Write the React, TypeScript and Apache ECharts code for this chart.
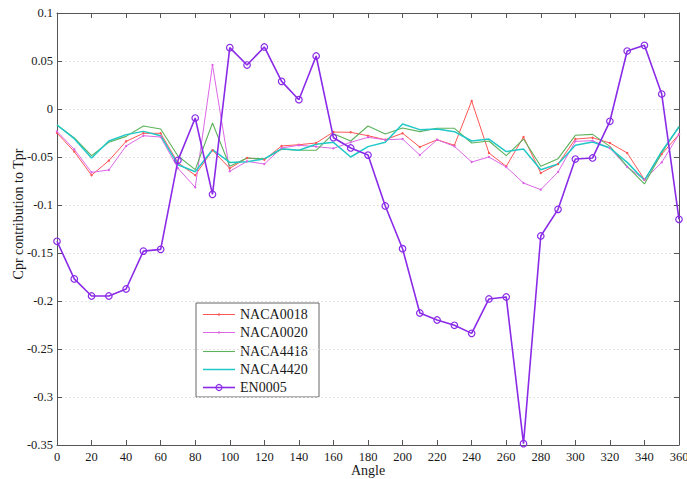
import React, { useEffect, useRef } from "react";
import * as echarts from "echarts";

const angles = [0, 10, 20, 30, 40, 50, 60, 70, 80, 90, 100, 110, 120, 130, 140, 150, 160, 170, 180,
  190, 200, 210, 220, 230, 240, 250, 260, 270, 280, 290, 300, 310, 320, 330, 340, 350, 360];

const naca0018 = [-0.025, -0.0444, -0.069, -0.0538, -0.0337, -0.0253, -0.0253, -0.056, -0.069, -0.043,
  -0.0618, -0.051, -0.0528, -0.0385, -0.0372, -0.0354, -0.024, -0.0243, -0.0278,
  -0.032, -0.0253, -0.0396, -0.032, -0.0378, 0.0083, -0.0458, -0.0597, -0.0292, -0.0667,
  -0.0573, -0.0313, -0.0299, -0.0354, -0.0458, -0.0736, -0.047, -0.0264];

const naca0020 = [-0.0233, -0.042, -0.066, -0.0635, -0.0385, -0.0278, -0.0292, -0.0618, -0.0816, 0.0458,
  -0.0649, -0.0545, -0.0573, -0.0406, -0.0378, -0.0392, -0.041, -0.0347, -0.0295,
  -0.032, -0.0313, -0.048, -0.032, -0.0389, -0.0552, -0.05, -0.0604, -0.0771, -0.084,
  -0.0656, -0.0337, -0.033, -0.0406, -0.0604, -0.0736, -0.0556, -0.0264];

const naca4418 = [-0.0167, -0.0302, -0.0486, -0.0347, -0.0285, -0.0177, -0.0208, -0.049, -0.0632, -0.0146,
  -0.0597, -0.051, -0.052, -0.042, -0.043, -0.043, -0.0257, -0.0333, -0.0177,
  -0.026, -0.0198, -0.0236, -0.0201, -0.0201, -0.0354, -0.0333, -0.0486, -0.0313, -0.0597,
  -0.0517, -0.0274, -0.0264, -0.0389, -0.0597, -0.0781, -0.0458, -0.018];

const naca4420 = [-0.0167, -0.0309, -0.051, -0.0333, -0.0267, -0.0233, -0.0278, -0.058, -0.0653, -0.0424,
  -0.0556, -0.0549, -0.052, -0.0413, -0.043, -0.0368, -0.0347, -0.05, -0.0392,
  -0.0347, -0.0156, -0.0215, -0.0208, -0.0236, -0.0333, -0.0313, -0.0444, -0.0417, -0.0632,
  -0.0573, -0.0378, -0.0344, -0.0406, -0.0556, -0.0743, -0.0441, -0.0188];

const en0005 = [-0.1378, -0.177, -0.1948, -0.1948, -0.1875, -0.148, -0.1462, -0.0535, -0.0094, -0.0889,
  0.0639, 0.0458, 0.0646, 0.0288, 0.0097, 0.0552, -0.0299, -0.0406, -0.048,
  -0.101, -0.1455, -0.2125, -0.2198, -0.2253, -0.2337, -0.1979, -0.1958, -0.3486, -0.1323,
  -0.1045, -0.0521, -0.051, -0.0128, 0.0604, 0.0663, 0.0156, -0.1149];

const FONT = "'Liberation Serif', 'Times New Roman', serif";
const AXIS_COLOR = "#555555";
const TEXT_COLOR = "#1a1a1a";

type SeriesDef = { name: string; values: number[]; color: string; marker: "dot" | "ring" | "none"; width: number };

const seriesDefs: SeriesDef[] = [
  { name: "NACA0018", values: naca0018, color: "#ff5555", marker: "dot", width: 1 },
  { name: "NACA0020", values: naca0020, color: "#dd66e6", marker: "dot", width: 1 },
  { name: "NACA4418", values: naca4418, color: "#5cb25c", marker: "none", width: 1.1 },
  { name: "NACA4420", values: naca4420, color: "#22c8c8", marker: "none", width: 1.5 },
  { name: "EN0005", values: en0005, color: "#8a2be8", marker: "ring", width: 1.6 },
];

const pairs = (vals: number[]) => angles.map((a, i) => [a, vals[i]]);

// Hand-built legend box (line sample with marker, then the name)
function legendGraphic() {
  const left = 196;
  const top = 303;
  const w = 123;
  const h = 94;
  const rowTop = 314;
  const rowStep = 18.3;
  const children: any[] = [
    { type: "rect", shape: { x: left, y: top, width: w, height: h }, style: { fill: "#ffffff", stroke: "#666666", lineWidth: 1 } },
  ];
  seriesDefs.forEach((s, i) => {
    const y = Math.round(rowTop + i * rowStep) + 0.5;
    children.push({ type: "line", shape: { x1: 203, y1: y, x2: 235, y2: y }, style: { stroke: s.color, lineWidth: s.width } });
    if (s.marker === "dot") {
      children.push({ type: "circle", shape: { cx: 219, cy: y, r: 1.2 }, style: { fill: s.color } });
    } else if (s.marker === "ring") {
      children.push({ type: "circle", shape: { cx: 219, cy: y, r: 3 }, style: { fill: "none", stroke: s.color, lineWidth: 1.2 } });
    }
    children.push({
      type: "text",
      x: 240,
      y,
      style: { text: s.name, font: `14px ${FONT}`, fill: TEXT_COLOR, textVerticalAlign: "middle", textAlign: "left" },
    });
  });
  return { type: "group", z: 100, children };
}

export default function App() {
  const ref = useRef<HTMLDivElement>(null);

  useEffect(() => {
    if (!ref.current) return;
    const chart = echarts.init(ref.current, undefined, { renderer: "svg" });

    const series = seriesDefs.map((s) => ({
      name: s.name,
      type: "line",
      data: pairs(s.values),
      symbol: s.marker === "none" ? "none" : "circle",
      symbolSize: s.marker === "ring" ? 6.5 : 2.4,
      showSymbol: s.marker !== "none",
      lineStyle: { color: s.color, width: s.width },
      itemStyle:
        s.marker === "ring"
          ? { color: "rgba(0,0,0,0)", borderColor: s.color, borderWidth: 1.2 }
          : { color: s.color, borderWidth: 0 },
      emphasis: { disabled: true },
      z: s.marker === "ring" ? 3 : 2,
    }));

    chart.setOption({
      animation: false,
      backgroundColor: "#ffffff",
      grid: { left: 57, right: 8, top: 13, bottom: 34, containLabel: false, outerBoundsMode: "none" },
      xAxis: [
        {
          type: "value",
          min: 0,
          max: 360,
          interval: 20,
          axisLine: { onZero: false, lineStyle: { color: AXIS_COLOR, width: 1 } },
          axisTick: { inside: true, length: 5, lineStyle: { color: AXIS_COLOR } },
          axisLabel: { fontFamily: FONT, fontSize: 12.5, color: TEXT_COLOR, margin: 5 },
          splitLine: { show: false },
        },
        {
          type: "value",
          position: "top",
          min: 0,
          max: 360,
          interval: 20,
          axisLine: { show: true, onZero: false, lineStyle: { color: AXIS_COLOR, width: 1 } },
          axisTick: { inside: true, length: 5, lineStyle: { color: AXIS_COLOR } },
          axisLabel: { show: false },
          splitLine: { show: false },
        },
      ],
      yAxis: [
        {
          type: "value",
          min: -0.35,
          max: 0.1,
          interval: 0.05,
          axisLine: { show: true, onZero: false, lineStyle: { color: AXIS_COLOR, width: 1 } },
          axisTick: { show: true, inside: true, length: 5, lineStyle: { color: AXIS_COLOR } },
          axisLabel: {
            fontFamily: FONT,
            fontSize: 12.5,
            color: TEXT_COLOR,
            margin: 4,
            formatter: (v: number) => String(Math.round(v * 100) / 100),
          },
          splitLine: { show: true, lineStyle: { color: "#e4e4e4", type: [2, 2], width: 1 } },
        },
        {
          type: "value",
          position: "right",
          min: -0.35,
          max: 0.1,
          interval: 0.05,
          axisLine: { show: true, onZero: false, lineStyle: { color: AXIS_COLOR, width: 1 } },
          axisTick: { show: true, inside: true, length: 5, lineStyle: { color: AXIS_COLOR } },
          axisLabel: { show: false },
          splitLine: { show: false },
        },
      ],
      graphic: [
        {
          type: "text",
          x: 18,
          y: 214,
          rotation: Math.PI / 2,
          style: {
            text: "Cpr contribution to Tpr",
            font: `14px ${FONT}`,
            fill: TEXT_COLOR,
            textAlign: "center",
            textVerticalAlign: "middle",
          },
        },
        {
          type: "text",
          x: 368,
          y: 470,
          style: {
            text: "Angle",
            font: `14px ${FONT}`,
            fill: TEXT_COLOR,
            textAlign: "center",
            textVerticalAlign: "middle",
          },
        },
        legendGraphic(),
      ],
      series,
    });

    return () => chart.dispose();
  }, []);

  return <div ref={ref} style={{ width: 687, height: 479, position: "absolute", left: 0, top: 0 }} />;
}
